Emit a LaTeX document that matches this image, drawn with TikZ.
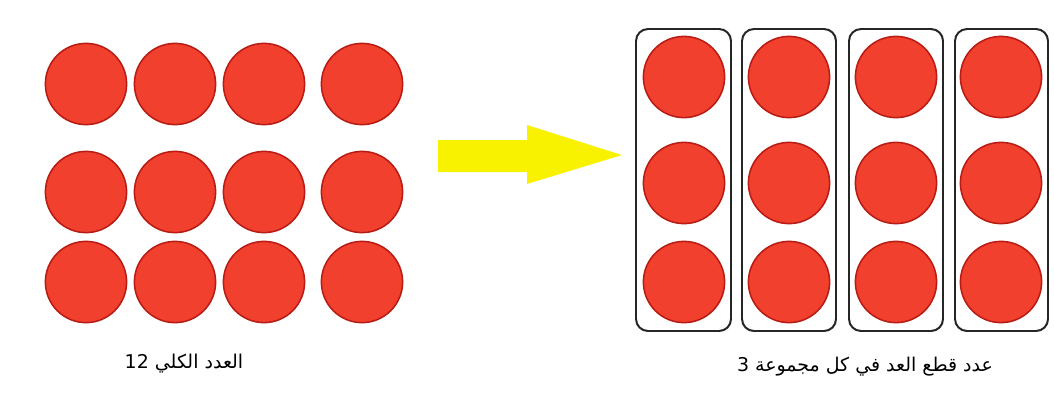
\documentclass[tikz,border=0pt]{standalone}
\usepackage{fontspec}
\newfontfamily\arabicfont[Script=Arabic]{DejaVu Sans}
\TeXXeTstate=1
\definecolor{dotfill}{HTML}{F2402E}
\definecolor{dotline}{HTML}{B81C14}
\definecolor{arrowyellow}{HTML}{F8F200}
\begin{document}
\begin{tikzpicture}[x=0.025cm,y=-0.025cm,
  dot/.style={circle,fill=dotfill,draw=dotline,line width=1.1pt,minimum size=2.03cm,inner sep=0pt},
  groupbox/.style={draw=black!85,line width=1.4pt,rounded corners=0.3cm},
  lbl/.style={font=\arabicfont\fontsize{13.5}{16}\selectfont,inner sep=0pt}]
\useasboundingbox[fill=white] (0,0) rectangle (1054,402);
% left grid
\foreach \c/\x in {1/86,2/175,3/264,4/362}{
  \foreach \r/\y in {1/84,2/192,3/282}{
    \node[dot] (L\r\c) at (\x,\y) {};
  }
}
% right groups
\foreach \c/\x/\a/\b in {1/684/636/731,2/789/742/836,3/896/849/943,4/1001/955/1048}{
  \draw[groupbox] (\a,29) rectangle (\b,331);
  \foreach \r/\y in {1/77,2/183,3/282}{
    \node[dot] (R\r\c) at (\x,\y) {};
  }
}
% yellow arrow
\fill[arrowyellow] (438,140) -- (527,140) -- (527,125) -- (622,155) -- (527,184) -- (527,172) -- (438,172) -- cycle;
% labels
\node[lbl] (total) at (184,364) {\beginR العدد الكلي \beginL12\endL\endR};
\node[lbl] (pergroup) at (865,367) {\beginR عدد قطع العد في كل مجموعة \beginL3\endL\endR};
\end{tikzpicture}
\end{document}
